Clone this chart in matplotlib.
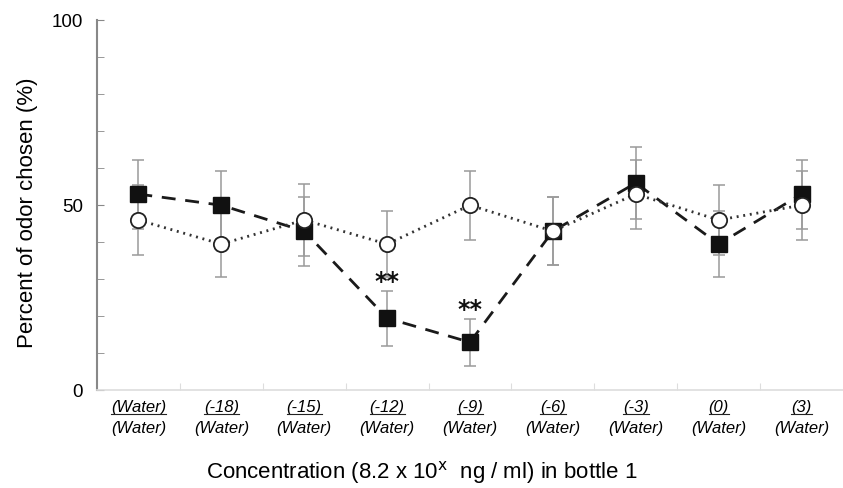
import matplotlib
matplotlib.use('Agg')
import matplotlib.pyplot as plt
import matplotlib.transforms as mtransforms
from matplotlib.lines import Line2D
import numpy as np

plt.rcParams['font.family'] = ['Liberation Sans', 'DejaVu Sans']

# bottle 1 exponent labels / bottle 2 labels
top_labels = ['(Water)', '(-18)', '(-15)', '(-12)', '(-9)', '(-6)', '(-3)', '(0)', '(3)']
bottom_labels = ['(Water)'] * 9

# filled squares, dashed line
sq_vals = [53, 50, 43, 19.5, 13, 43, 56, 39.5, 53]
sq_err = [9.3, 9.2, 9.3, 7.4, 6.3, 9.2, 9.6, 9.0, 9.3]
# open circles, dotted line
ci_vals = [46, 39.5, 46, 39.5, 50, 43, 53, 46, 50]
ci_err = [9.5, 9.0, 9.6, 9.0, 9.3, 9.2, 9.3, 9.5, 9.3]
# significance marks
sig_idx = [3, 4]

x = np.arange(len(top_labels))

fig = plt.figure(figsize=(8.43, 4.88), dpi=100)
ax = fig.add_axes([0.115, 0.2, 0.885, 0.759])

ecol = '#9a9a9a'
ax.errorbar(x, sq_vals, yerr=sq_err, fmt='none', ecolor=ecol, elinewidth=1.1,
            capsize=4, capthick=1.1, zorder=1)
ax.errorbar(x, ci_vals, yerr=ci_err, fmt='none', ecolor=ecol, elinewidth=1.1,
            capsize=4, capthick=1.1, zorder=1)

ax.plot(x, sq_vals, color='#1a1a1a', lw=2, dashes=(5, 3.5), marker='s', ms=11,
        mfc='#111111', mec='#111111', zorder=3)
ax.plot(x, ci_vals, color='#333333', lw=2, dashes=(0.7, 1.7), marker='o', ms=11,
        mfc='white', mec='#222222', mew=1.3, zorder=4)

for i in sig_idx:
    ax.text(x[i], sq_vals[i] + sq_err[i] + 0.6, '**', ha='center', va='baseline',
            fontsize=17, fontweight='bold', family='DejaVu Sans', color='#111111')

ax.set_xlim(-0.5, len(x) - 0.5)
ax.set_ylim(0, 100)
ax.set_yticks([0, 50, 100])
ax.set_yticks(np.arange(10, 100, 10), minor=True)
ax.set_yticklabels(['0', '50', '100'], fontsize=13.5)
ax.set_xticks(np.arange(0.5, len(x) - 0.5, 1))
ax.set_xticklabels([])
ax.tick_params(axis='y', which='both', direction='in', length=5, color='#888888', pad=10)
ax.tick_params(axis='x', direction='in', length=5, color='#dddddd')

for s in ['top', 'right']:
    ax.spines[s].set_visible(False)
ax.spines['left'].set_color('#888888')
ax.spines['left'].set_linewidth(1.5)
ax.spines['bottom'].set_color('#dddddd')
ax.spines['bottom'].set_linewidth(1.2)

trans = mtransforms.blended_transform_factory(ax.transData, ax.transAxes)
tops = []
for i in range(len(x)):
    t = ax.text(x[i], -0.027, top_labels[i], transform=trans, ha='center', va='top',
                fontsize=12, style='italic')
    tops.append(t)
    ax.text(x[i], -0.082, bottom_labels[i], transform=trans, ha='center', va='top',
            fontsize=12, style='italic')

fig.text(0.033, 0.565, 'Percent of odor chosen (%)', rotation=90, ha='center',
         va='center', fontsize=16)
fig.text(0.5, 0.032, r'Concentration (8.2 x 10$^{\mathrm{x}}$  ng / ml) in bottle 1',
         ha='center', va='center', fontsize=16)

# underline the bottle-1 labels
fig.canvas.draw()
r = fig.canvas.get_renderer()
inv = fig.transFigure.inverted()
for t in tops:
    bb = t.get_window_extent(renderer=r)
    (x0, y0), (x1, y1) = inv.transform([(bb.x0, bb.y0 + 1), (bb.x1, bb.y0 + 1)])
    fig.add_artist(Line2D([x0, x1], [y0, y1], color='#222222', lw=0.8,
                          transform=fig.transFigure))

plt.savefig('out.png', dpi=100)
